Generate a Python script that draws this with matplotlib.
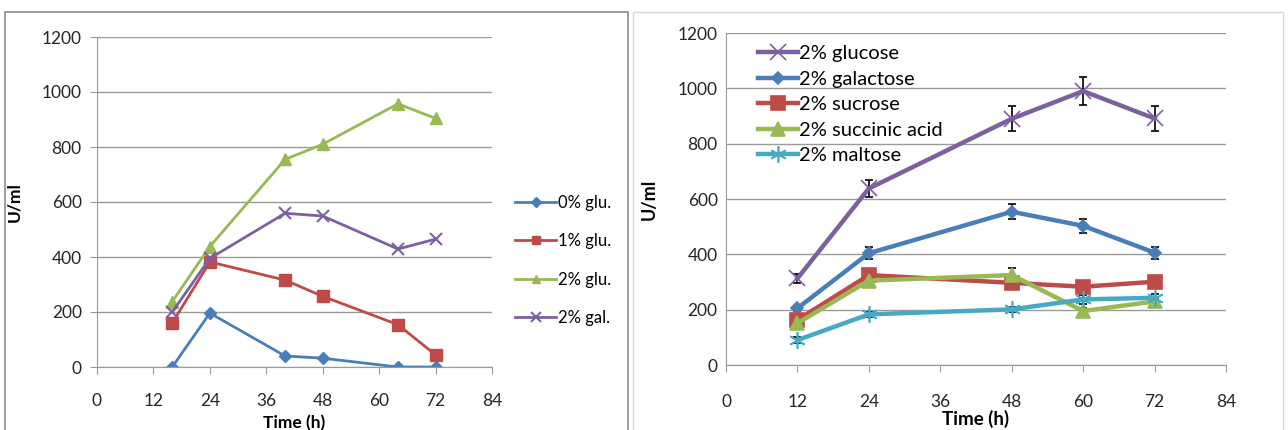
import matplotlib.pyplot as plt
from matplotlib.patches import Rectangle
from matplotlib.lines import Line2D

plt.rcParams['font.family'] = ['Lato', 'DejaVu Sans']

# Left panel data
time_left = [16, 24, 40, 48, 64, 72]
glu0 = [0, 196, 40, 32, 0, 0]
glu1 = [160, 382, 316, 257, 154, 44]
glu2 = [238, 438, 755, 810, 957, 904]
gal2 = [200, 395, 559, 549, 429, 465]

# Right panel data
time_right = [12, 24, 48, 60, 72]
glucose = [313, 638, 890, 990, 891]
glucose_err = [15, 32, 45, 50, 45]
galactose = [205, 404, 554, 503, 406]
galactose_err = [10, 22, 27, 25, 22]
sucrose = [163, 325, 297, 283, 301]
sucrose_err = [10, 12, 12, 10, 10]
succinic = [151, 305, 325, 195, 230]
succinic_err = [10, 12, 25, 10, 12]
maltose = [90, 183, 201, 237, 243]
maltose_err = [10, 10, 10, 15, 15]

blue = '#4A7EBB'
red = '#BE4B48'
green = '#98B954'
purple = '#7D60A0'
cyan = '#46AAC5'
grid_c = '#9a9a9a'

W, H = 1288, 430
fig = plt.figure(figsize=(W / 100, H / 100), dpi=100)

# panel frames
fig.patches.append(Rectangle((5 / W, -0.01), 623 / W, 418 / H + 0.01,
                             transform=fig.transFigure, fill=False,
                             edgecolor='#8c8c8c', linewidth=1.2))
fig.patches.append(Rectangle((633 / W, -0.01), 650 / W, 418 / H + 0.01,
                             transform=fig.transFigure, fill=False,
                             edgecolor='#d8d8d8', linewidth=1.0))


def style_axes(ax):
    ax.set_xlim(0, 84)
    ax.set_ylim(0, 1200)
    ax.set_xticks(range(0, 85, 12))
    ax.set_yticks(range(0, 1201, 200))
    ax.grid(axis='y', color=grid_c, linewidth=1.0)
    ax.set_axisbelow(True)
    for s in ['top', 'right']:
        ax.spines[s].set_visible(False)
    for s in ['left', 'bottom']:
        ax.spines[s].set_color(grid_c)
    ax.tick_params(axis='both', colors=grid_c, labelcolor='#262626',
                   labelsize=12.5, length=5, pad=6)


# Left chart
ax1 = fig.add_axes([97 / W, 63 / H, 395 / W, 330 / H])
style_axes(ax1)
ax1.tick_params(axis='x', pad=14)
ax1.plot(time_left, glu0, color=blue, lw=2, marker='D', ms=6, label='0% glu.')
ax1.plot(time_left, glu1, color=red, lw=2, marker='s', ms=8, label='1% glu.')
ax1.plot(time_left, glu2, color=green, lw=2, marker='^', ms=8, label='2% glu.')
ax1.plot(time_left, gal2, color=purple, lw=2, marker='x', ms=9, mew=1.5, label='2% gal.')
ax1.set_xlabel('Time (h)', fontsize=12.5, fontweight='bold', labelpad=4)
ax1.set_ylabel('U/ml', fontsize=12.5, fontweight='bold', labelpad=14)
ax1.legend(loc='upper left', bbox_to_anchor=(508 / W, 1 - 188 / H),
           bbox_transform=fig.transFigure, frameon=False, borderaxespad=0,
           fontsize=12, handlelength=2.5, handletextpad=0.1, labelspacing=1.35,
           markerscale=0.8)

# Right chart
ax2 = fig.add_axes([726 / W, 65 / H, 500 / W, 332 / H])
style_axes(ax2)
ax2.tick_params(axis='x', pad=16)
series = [
    (glucose, glucose_err, purple, 'x', 11, '2% glucose'),
    (galactose, galactose_err, blue, 'D', 6, '2% galactose'),
    (sucrose, sucrose_err, red, 's', 10, '2% sucrose'),
    (succinic, succinic_err, green, '^', 10, '2% succinic acid'),
    (maltose, maltose_err, cyan, (6, 2, 0), 12, '2% maltose'),
]
for vals, err, col, mk, ms, lab in series:
    ax2.errorbar(time_right, vals, yerr=err, color=col, lw=3.2, marker=mk, ms=ms,
                 mew=1.2, ecolor='black', elinewidth=1.2, capsize=3, capthick=1.2,
                 label=lab)
handles = [Line2D([], [], color=c, lw=3.2, marker=m, ms=s, mew=1.2)
           for _, _, c, m, s, _ in series]
ax2.legend(handles, [s[5] for s in series], loc='upper left',
           bbox_to_anchor=(750 / W, 1 - 37 / H), bbox_transform=fig.transFigure,
           borderaxespad=0, frameon=False, fontsize=14.5,
           handlelength=2.0, handletextpad=0.05, labelspacing=0.42)
ax2.set_xlabel('Time (h)', fontsize=13.5, fontweight='bold', labelpad=0)
ax2.set_ylabel('U/ml', fontsize=13, fontweight='bold', labelpad=14)
ax2.tick_params(axis='y', length=0)

fig.savefig('out.png', dpi=100)
